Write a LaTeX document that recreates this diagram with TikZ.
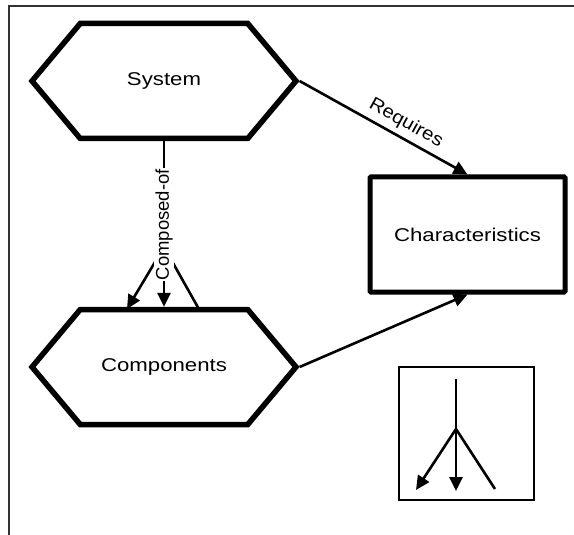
\documentclass[tikz,border=0pt]{standalone}
\usepackage{fontspec}
\usepackage{tikz}
\usetikzlibrary{positioning, arrows.meta, shapes.symbols}
\newfontfamily\diagfont{Liberation Sans}[FakeStretch=1.2]
\newfontfamily\labelfont{Liberation Sans}
\tikzset{>={Triangle[length=14pt,width=13pt]},
         hexa/.style={signal, signal to=east and west, signal pointer angle=100,
                      draw, line width=5.5pt, minimum width=264pt, minimum height=115pt,
                      font=\diagfont\fontsize{18.5}{21}\selectfont},
         thing/.style={draw, line width=5pt, rounded corners=1pt, minimum width=195pt,
                       minimum height=115pt, font=\diagfont\fontsize{18.5}{21}\selectfont},
         rel/.style={line width=2.6pt},
         tag/.style={font=\labelfont\fontsize{18.5}{21}\selectfont, inner sep=1pt},
         }

\begin{document}
\begin{tikzpicture}[x=1pt, y=-1pt]
    \useasboundingbox (0,0) rectangle (574,535);
    \draw[line width=1.5pt, black!80] (574,6) -- (9,6) -- (9,535);

    \node[hexa] (sys) at (164,81) {System};
    \node[hexa] (comp) at (164,367) {Components};
    \node[thing] (char) at (467.5,234.5) {Characteristics};

    % composed-of fork
    \coordinate (fork) at (164,247);
    \draw[rel, ->] (fork) -- (127,309);
    \draw[rel, ->] (fork) -- (comp.north);
    \draw[rel] (fork) -- (200,311);
    \draw[rel] (sys.south) -- (fork)
        node[tag, pos=0.79, rotate=90, fill=white] {Composed-of};

    \draw[rel, ->] (sys.east) -- (char.north)
        node[tag, pos=0.59, sloped, above=4pt] {\addfontfeature{FakeStretch=1.1}Requires};
    \draw[rel, ->] (comp.east) -- (char.south);

    % legend
    \node[draw, line width=1.2pt, minimum width=135pt, minimum height=133pt] (key) at (466.5,433.5) {};
    \coordinate (ktop) at (456,379);
    \coordinate (kfork) at (456,429);
    \draw[rel] (ktop) -- (kfork);
    \draw[rel, ->] (kfork) -- (416,490);
    \draw[rel, ->] (kfork) -- (456,491);
    \draw[rel] (kfork) -- (495,489);
\end{tikzpicture}
\end{document}
